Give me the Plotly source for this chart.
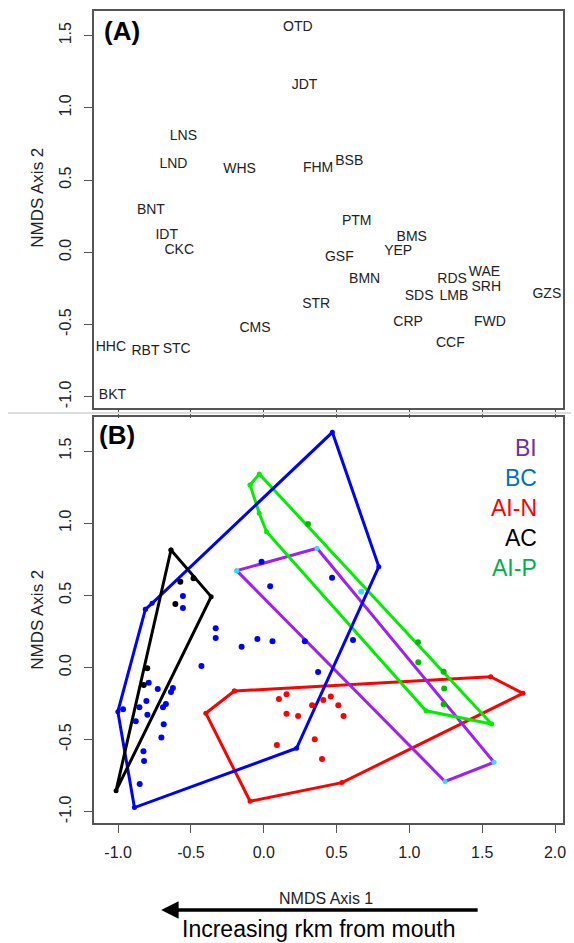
import plotly.graph_objects as go

W, H = 574, 943
FONT = "Liberation Sans, Arial, sans-serif"

# ---------------- Panel A: species scores ----------------
species = ["OTD", "JDT", "LNS", "LND", "WHS", "FHM", "BSB", "BNT", "PTM", "IDT",
           "BMS", "CKC", "YEP", "GSF", "WAE", "RDS", "BMN", "SRH", "GZS", "SDS",
           "LMB", "STR", "CRP", "FWD", "CMS", "CCF", "HHC", "RBT", "STC", "BKT"]
sp_x = [0.234, 0.280, -0.552, -0.620, -0.166, 0.373, 0.587, -0.775, 0.638, -0.666,
        1.016, -0.580, 0.923, 0.519, 1.515, 1.293, 0.693, 1.528, 1.944, 1.067,
        1.306, 0.360, 0.991, 1.553, -0.060, 1.281, -1.050, -0.812, -0.598, -1.039]
sp_y = [1.554, 1.151, 0.800, 0.604, 0.570, 0.581, 0.627, 0.288, 0.212, 0.115,
        0.100, 0.009, 0.005, -0.037, -0.141, -0.192, -0.192, -0.245, -0.291, -0.307,
        -0.307, -0.360, -0.484, -0.487, -0.531, -0.635, -0.660, -0.688, -0.676, -0.992]

# ---------------- Panel B: site scores and hulls ----------------
groups = ["BI", "BC", "AI-N", "AC", "AI-P"]
hull_colors = ["#A020F0", "#0000FF", "#FF0000", "#000000", "#00EE00"]
pt_colors = ["#33DDFF", "#0000FF", "#FF0000", "#000000", "#00BB00"]
legend_colors = ["#7030A0", "#0070C0", "#FF0000", "#000000", "#00B050"]

hull_BI_x = [-0.186, 0.366, 1.581, 1.245]
hull_BI_y = [0.671, 0.826, -0.657, -0.790]
hull_BC_x = [-0.813, -0.767, 0.471, 0.790, 0.225, -0.888, -1.002]
hull_BC_y = [0.403, 0.445, 1.630, 0.699, -0.560, -0.971, -0.306]
hull_AIN_x = [-0.202, 1.558, 1.780, 0.537, -0.094, -0.398]
hull_AIN_y = [-0.163, -0.064, -0.179, -0.798, -0.927, -0.317]
hull_AC_x = [-0.637, -0.361, -1.014]
hull_AC_y = [0.814, 0.491, -0.854]
hull_AIP_x = [-0.094, -0.031, 1.565, 1.114, 0.019, -0.031]
hull_AIP_y = [1.265, 1.341, -0.392, -0.300, 0.941, 1.069]

pts_BI_x = [0.669]
pts_BI_y = [0.525]
pts_BC_x = [-0.555, -0.555, -0.330, -0.330, -0.152, -0.044, -0.428, -0.790, -0.728, -0.624,
            -0.637, -0.806, -0.672, -0.692, -0.854, -0.799, -0.879, -0.687, -0.703, -0.826,
            -0.822, -0.852, -0.015, 0.044, 0.469, 0.060, 0.282, 0.373, 0.613, -0.966]
pts_BC_y = [0.495, 0.412, 0.272, 0.204, 0.144, 0.197, 0.010, -0.105, -0.149, -0.142,
            -0.170, -0.232, -0.253, -0.276, -0.276, -0.327, -0.373, -0.394, -0.486, -0.581,
            -0.648, -0.807, 0.733, 0.563, 0.622, 0.182, 0.182, -0.031, 0.190, -0.290]
pts_AIN_x = [0.104, 0.156, 0.156, 0.236, 0.332, 0.409, 0.460, 0.512, 0.548, 0.350, 0.090, 0.400]
pts_AIN_y = [-0.218, -0.186, -0.320, -0.336, -0.262, -0.225, -0.202, -0.262, -0.336, -0.498, -0.537, -0.634]
pts_AC_x = [-0.573, -0.482, -0.607, -0.800, -0.824]
pts_AC_y = [0.595, 0.618, 0.440, -0.006, -0.121]
pts_AIP_x = [0.304, 1.059, 1.061, 1.235, 1.239, 1.235]
pts_AIP_y = [0.994, 0.175, 0.036, -0.029, -0.145, -0.255]

hulls = [(hull_BI_x, hull_BI_y), (hull_BC_x, hull_BC_y), (hull_AIN_x, hull_AIN_y),
         (hull_AC_x, hull_AC_y), (hull_AIP_x, hull_AIP_y)]
points = [(pts_BI_x, pts_BI_y), (pts_BC_x, pts_BC_y), (pts_AIN_x, pts_AIN_y),
          (pts_AC_x, pts_AC_y), (pts_AIP_x, pts_AIP_y)]

tick_vals = [-1.0, -0.5, 0.0, 0.5, 1.0, 1.5, 2.0]
tick_text = ["-1.0", "-0.5", "0.0", "0.5", "1.0", "1.5", "2.0"]
ytick_vals = [-1.0, -0.5, 0.0, 0.5, 1.0, 1.5]
ytick_text = ["-1.0", "-0.5", "0.0", "0.5", "1.0", "1.5"]

fig = go.Figure()

fig.add_trace(go.Scatter(x=sp_x, y=sp_y, text=species, mode="text",
                         textposition="middle center",
                         textfont=dict(family=FONT, size=14, color="#222222"),
                         xaxis="x", yaxis="y", showlegend=False, hoverinfo="skip"))

# draw order: AI-N, BI, AI-P, BC, AC
order = [2, 0, 4, 1, 3]
for i in order:
    hx, hy = hulls[i]
    fig.add_trace(go.Scatter(x=list(hx) + [hx[0]], y=list(hy) + [hy[0]], mode="lines+markers",
                             line=dict(color=hull_colors[i], width=3),
                             marker=dict(color=pt_colors[i] if i == 0 else hull_colors[i], size=5),
                             xaxis="x2", yaxis="y2", showlegend=False, hoverinfo="skip"))
for i in order:
    px_, py_ = points[i]
    fig.add_trace(go.Scatter(x=px_, y=py_, mode="markers",
                             marker=dict(color=pt_colors[i], size=6),
                             xaxis="x2", yaxis="y2", showlegend=False, hoverinfo="skip"))

def px2x(p):
    return p / W

def py2y(p):
    return 1 - p / H

xdom = [px2x(94), px2x(566)]
axis_common = dict(showgrid=False, zeroline=False, showline=True, mirror=True,
                   linecolor="#555555", linewidth=1.5, ticks="outside", ticklen=8,
                   tickwidth=1.2, tickcolor="#555555", ticklabelstandoff=6,
                   tickfont=dict(family=FONT, size=16, color="#222222"))

fig.update_layout(
    width=W, height=H, margin=dict(l=0, r=0, t=0, b=0),
    paper_bgcolor="white", plot_bgcolor="white",
    xaxis=dict(domain=xdom, range=[-1.169, 2.055], anchor="y",
               tickvals=tick_vals, showticklabels=False, **axis_common),
    yaxis=dict(domain=[py2y(408.3), py2y(10.7)], range=[-1.08, 1.672], anchor="x",
               tickvals=ytick_vals, ticktext=ytick_text, tickangle=-90, **axis_common),
    xaxis2=dict(domain=xdom, range=[-1.169, 2.055], anchor="y2",
                tickvals=tick_vals, ticktext=tick_text, **axis_common),
    yaxis2=dict(domain=[py2y(823.3), py2y(417.3)], range=[-1.08, 1.734], anchor="x2",
                tickvals=ytick_vals, ticktext=ytick_text, tickangle=-90, **axis_common),
)

annotations = [
    dict(text="<b>(A)</b>", x=px2x(103), y=py2y(31), xanchor="left", yanchor="middle",
         font=dict(family=FONT, size=26, color="black")),
    dict(text="<b>(B)</b>", x=px2x(98), y=py2y(435), xanchor="left", yanchor="middle",
         font=dict(family=FONT, size=26, color="black")),
    dict(text="NMDS Axis 2", x=px2x(37), y=py2y(198), textangle=-90,
         xanchor="center", yanchor="middle", font=dict(family=FONT, size=17, color="#222222")),
    dict(text="NMDS Axis 2", x=px2x(37), y=py2y(620), textangle=-90,
         xanchor="center", yanchor="middle", font=dict(family=FONT, size=17, color="#222222")),
    dict(text="NMDS Axis 1", x=px2x(328), y=py2y(898), xanchor="center", yanchor="middle",
         font=dict(family=FONT, size=16, color="#222222")),
    dict(text="Increasing rkm from mouth", x=px2x(321), y=py2y(929), xanchor="center",
         yanchor="middle", font=dict(family=FONT, size=23, color="black")),
    dict(text="", x=px2x(162), y=py2y(910), showarrow=True, ax=318, ay=0,
         arrowhead=2, arrowsize=1, arrowwidth=3.5, arrowcolor="black"),
]
leg_y = [448, 478, 508, 538, 568]
for g, c, yy in zip(groups, legend_colors, leg_y):
    annotations.append(dict(text=g, x=px2x(542), y=py2y(yy), xanchor="right", yanchor="middle",
                            font=dict(family=FONT, size=23, color=c)))
for a in annotations:
    a.setdefault("showarrow", False)
    a["xref"] = "paper"
    a["yref"] = "paper"
fig.update_layout(annotations=annotations)

fig.add_shape(type="line", xref="paper", yref="paper", x0=px2x(8), x1=1, y0=py2y(413), y1=py2y(413),
              line=dict(color="#DDDDDD", width=2))

fig.write_html("out.html")
